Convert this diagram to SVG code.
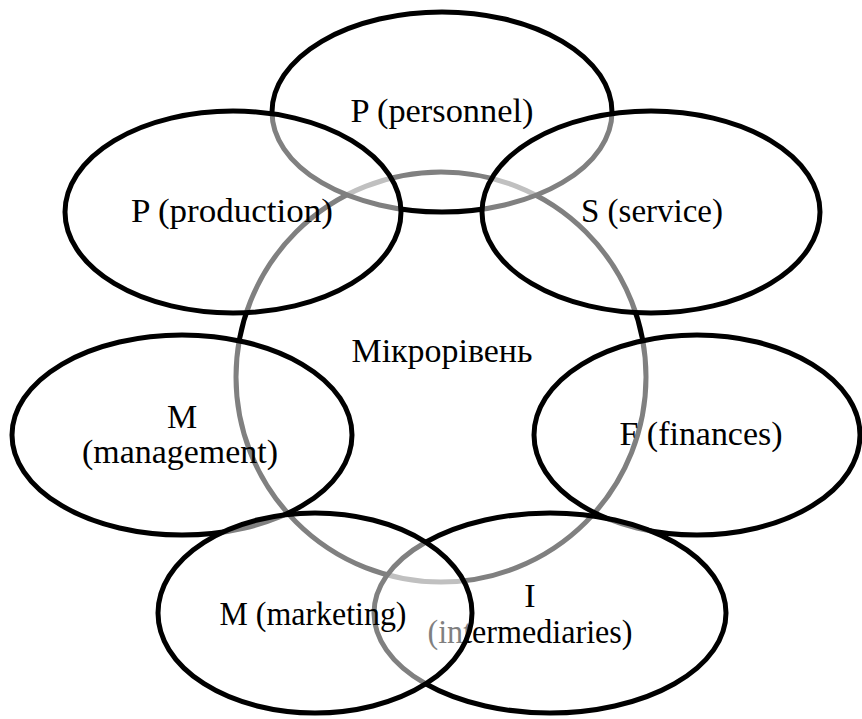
<svg xmlns="http://www.w3.org/2000/svg" width="862" height="719" viewBox="0 0 862 719">
<style>
.sh{fill:#ffffff;fill-opacity:0.5;stroke:#000;stroke-width:5}
.ring{fill:none;stroke:#000;stroke-width:5}
text{font-family:"Liberation Serif",serif;font-size:34px;fill:#000;text-anchor:middle}
</style>
<rect width="862" height="719" fill="#fff"/>
<g id="micro">
<circle class="ring" cx="441" cy="377" r="205"/>
<text x="442" y="362" textLength="181" lengthAdjust="spacingAndGlyphs">Мікрорівень</text>
</g>
<g id="personnel">
<ellipse class="sh" cx="442" cy="112" rx="170" ry="100"/>
<text x="442" y="122" textLength="183" lengthAdjust="spacingAndGlyphs">P (personnel)</text>
</g>
<g id="production">
<ellipse class="sh" cx="233" cy="212" rx="168" ry="101"/>
<text x="232" y="222" textLength="202" lengthAdjust="spacingAndGlyphs">P (production)</text>
</g>
<g id="service">
<ellipse class="sh" cx="651" cy="212" rx="169" ry="101"/>
<text x="652" y="222" textLength="142" lengthAdjust="spacingAndGlyphs">S (service)</text>
</g>
<g id="management">
<ellipse class="sh" cx="182" cy="435" rx="170" ry="100"/>
<text x="182" y="428">M</text>
<text x="180" y="463" textLength="196" lengthAdjust="spacingAndGlyphs">(management)</text>
</g>
<g id="finances">
<ellipse class="sh" cx="697" cy="435" rx="163" ry="100"/>
<text x="701" y="445" textLength="163" lengthAdjust="spacingAndGlyphs">F (finances)</text>
</g>
<g id="intermediaries">
<ellipse class="sh" cx="550" cy="613" rx="176" ry="100"/>
<text x="530" y="607">I</text>
<text x="530" y="643" textLength="205" lengthAdjust="spacingAndGlyphs">(intermediaries)</text>
</g>
<g id="marketing">
<ellipse class="sh" cx="315" cy="613" rx="157" ry="100"/>
<text x="313" y="625" textLength="187" lengthAdjust="spacingAndGlyphs">M (marketing)</text>
</g>
<g id="connectors"/>
</svg>
